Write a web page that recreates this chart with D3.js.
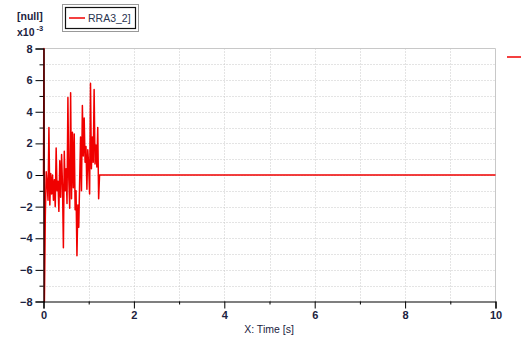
<!DOCTYPE html>
<html><head><meta charset="utf-8">
<script src="https://cdn.jsdelivr.net/npm/d3@7"></script>
<style>body{margin:0;background:#fff;}svg{display:block;font-family:"Liberation Sans",Arial,sans-serif;}</style>
</head><body><svg id="c" width="521" height="341"></svg>
<script>
const seriesName = "RRA3_2]";
const xTicks = [0, 2, 4, 6, 8, 10];
const yTicks = [-8, -6, -4, -2, 0, 2, 4, 6, 8];
const time = [0, 0.01, 0.02, 0.04, 0.06, 0.08, 0.10, 0.12, 0.14, 0.16, 0.18, 0.20, 0.22, 0.24, 0.26, 0.28, 0.30, 0.32, 0.34, 0.36, 0.38, 0.40, 0.42, 0.44, 0.46, 0.48, 0.50, 0.52, 0.54, 0.56, 0.58, 0.60, 0.62, 0.64, 0.66, 0.68, 0.70, 0.72, 0.74, 0.76, 0.78, 0.80, 0.82, 0.84, 0.86, 0.88, 0.90, 0.92, 0.94, 0.96, 0.98, 1.00, 1.02, 1.04, 1.06, 1.08, 1.10, 1.12, 1.14, 1.16, 1.18, 1.20, 1.22, 1.24, 10];
const values = [0, 8, -8, -2.6, 0.2, -0.5, -1.6, 3.0, -1.9, 0.1, -1.2, 0.0, -1.6, -0.3, -2.0, 1.7, -1.0, -0.4, -2.3, 0.9, -1.4, 1.3, -0.6, -4.6, 1.5, -1.0, 0.4, -1.8, 4.9, -0.3, -2.1, 5.2, -1.5, 2.7, -0.8, 2.6, -2.2, -1.0, -5.1, -1.9, -3.3, -0.4, 2.4, -1.0, 4.4, 1.2, 3.6, 0.8, 1.8, -0.9, 1.6, 0.6, -1.2, 5.8, 0.4, 2.4, 0.8, 5.4, 0.7, 1.9, 0.5, 3.0, -1.5, 0, 0];

const svg = d3.select("#c");
const L = 43.5, R = 495.5, T = 48.5, B = 301.5;
const x = d3.scaleLinear().domain([0, 10]).range([L, R]);
const y = d3.scaleLinear().domain([-8, 8]).range([B, T]);
const labelColor = "#1b2240";

// grid
const minorX = d3.range(0, 11, 1), minorY = d3.range(-8, 9, 1);
svg.append("g").selectAll("line").data(minorX.filter(d => d > 0 && d < 10)).join("line")
  .attr("x1", d => Math.round(x(d)) + 0.5).attr("x2", d => Math.round(x(d)) + 0.5)
  .attr("y1", T).attr("y2", B)
  .attr("stroke", "#c8c8c8").attr("stroke-dasharray", "1,2");
svg.append("g").selectAll("line").data(minorY.filter(d => d > -8 && d < 8)).join("line")
  .attr("y1", d => Math.round(y(d)) + 0.5).attr("y2", d => Math.round(y(d)) + 0.5)
  .attr("x1", L).attr("x2", R)
  .attr("stroke", "#c8c8c8").attr("stroke-dasharray", "1,2");
// top/right border
svg.append("path").attr("d", `M${L},${T}H${R}V${B}`).attr("fill", "none").attr("stroke", "#c8c8c8");

// data line
const line = d3.line().x((d, i) => x(time[i])).y((d, i) => y(values[i]));
svg.append("path").datum(values).attr("d", line).attr("fill", "none")
  .attr("stroke", "#f00000").attr("stroke-width", 1.5).attr("stroke-linejoin", "round");

// axes
const yAxis = d3.axisLeft(y).tickValues(yTicks).tickSize(8).tickPadding(3).tickFormat(d3.format("d"));
const gy = svg.append("g").attr("transform", `translate(${L},0)`).call(yAxis);
const yMinor = d3.axisLeft(y).tickValues(d3.range(-7, 8, 2)).tickSize(4).tickFormat("");
svg.append("g").attr("transform", `translate(${L},0)`).call(yMinor).select(".domain").remove();
const xAxis = d3.axisBottom(x).tickValues(xTicks).tickSize(7).tickPadding(3).tickFormat(d3.format("d"));
const gx = svg.append("g").attr("transform", `translate(0,${B})`).call(xAxis);
const xMinor = d3.axisBottom(x).tickValues(d3.range(1, 10, 2)).tickSize(3).tickFormat("");
svg.append("g").attr("transform", `translate(0,${B})`).call(xMinor).select(".domain").remove();
svg.selectAll(".domain").attr("stroke", "#000").attr("stroke-width", 1.2);
svg.selectAll(".tick line").attr("stroke", "#000");
svg.selectAll(".tick text").attr("fill", labelColor).attr("font-weight", "bold")
  .attr("font-size", 11).attr("font-family", "Liberation Sans, Arial, sans-serif");

// axis titles
svg.append("text").attr("x", 17).attr("y", 20).attr("font-weight", "bold").attr("font-size", 10.5)
  .attr("fill", labelColor).text("[null]");
const ex = svg.append("text").attr("x", 17).attr("y", 36).attr("font-weight", "bold").attr("font-size", 10.5).attr("fill", labelColor);
ex.append("tspan").text("x10");
ex.append("tspan").attr("dy", -5).attr("font-size", 7.5).text(" -3");
svg.append("text").attr("x", 269).attr("y", 333).attr("text-anchor", "middle").attr("font-size", 10.5)
  .attr("fill", labelColor).text("X: Time [s]");

// legend
svg.append("rect").attr("x", 62.5).attr("y", 4.5).attr("width", 76).attr("height", 27)
  .attr("fill", "none").attr("stroke", "#333").attr("stroke-dasharray", "1,1");
svg.append("rect").attr("x", 65.5).attr("y", 7.5).attr("width", 70).attr("height", 21)
  .attr("fill", "#fff").attr("stroke", "#111").attr("stroke-width", 1.2);
svg.append("line").attr("x1", 69).attr("x2", 85).attr("y1", 18).attr("y2", 18)
  .attr("stroke", "#f00000").attr("stroke-width", 1.5);
svg.append("text").attr("x", 88).attr("y", 22).attr("font-size", 10.5).attr("fill", "#2a3550").text(seriesName);
// clipped legend entry on the right
svg.append("line").attr("x1", 507).attr("x2", 525).attr("y1", 57).attr("y2", 57)
  .attr("stroke", "#f00000").attr("stroke-width", 1.5);
</script></body></html>
